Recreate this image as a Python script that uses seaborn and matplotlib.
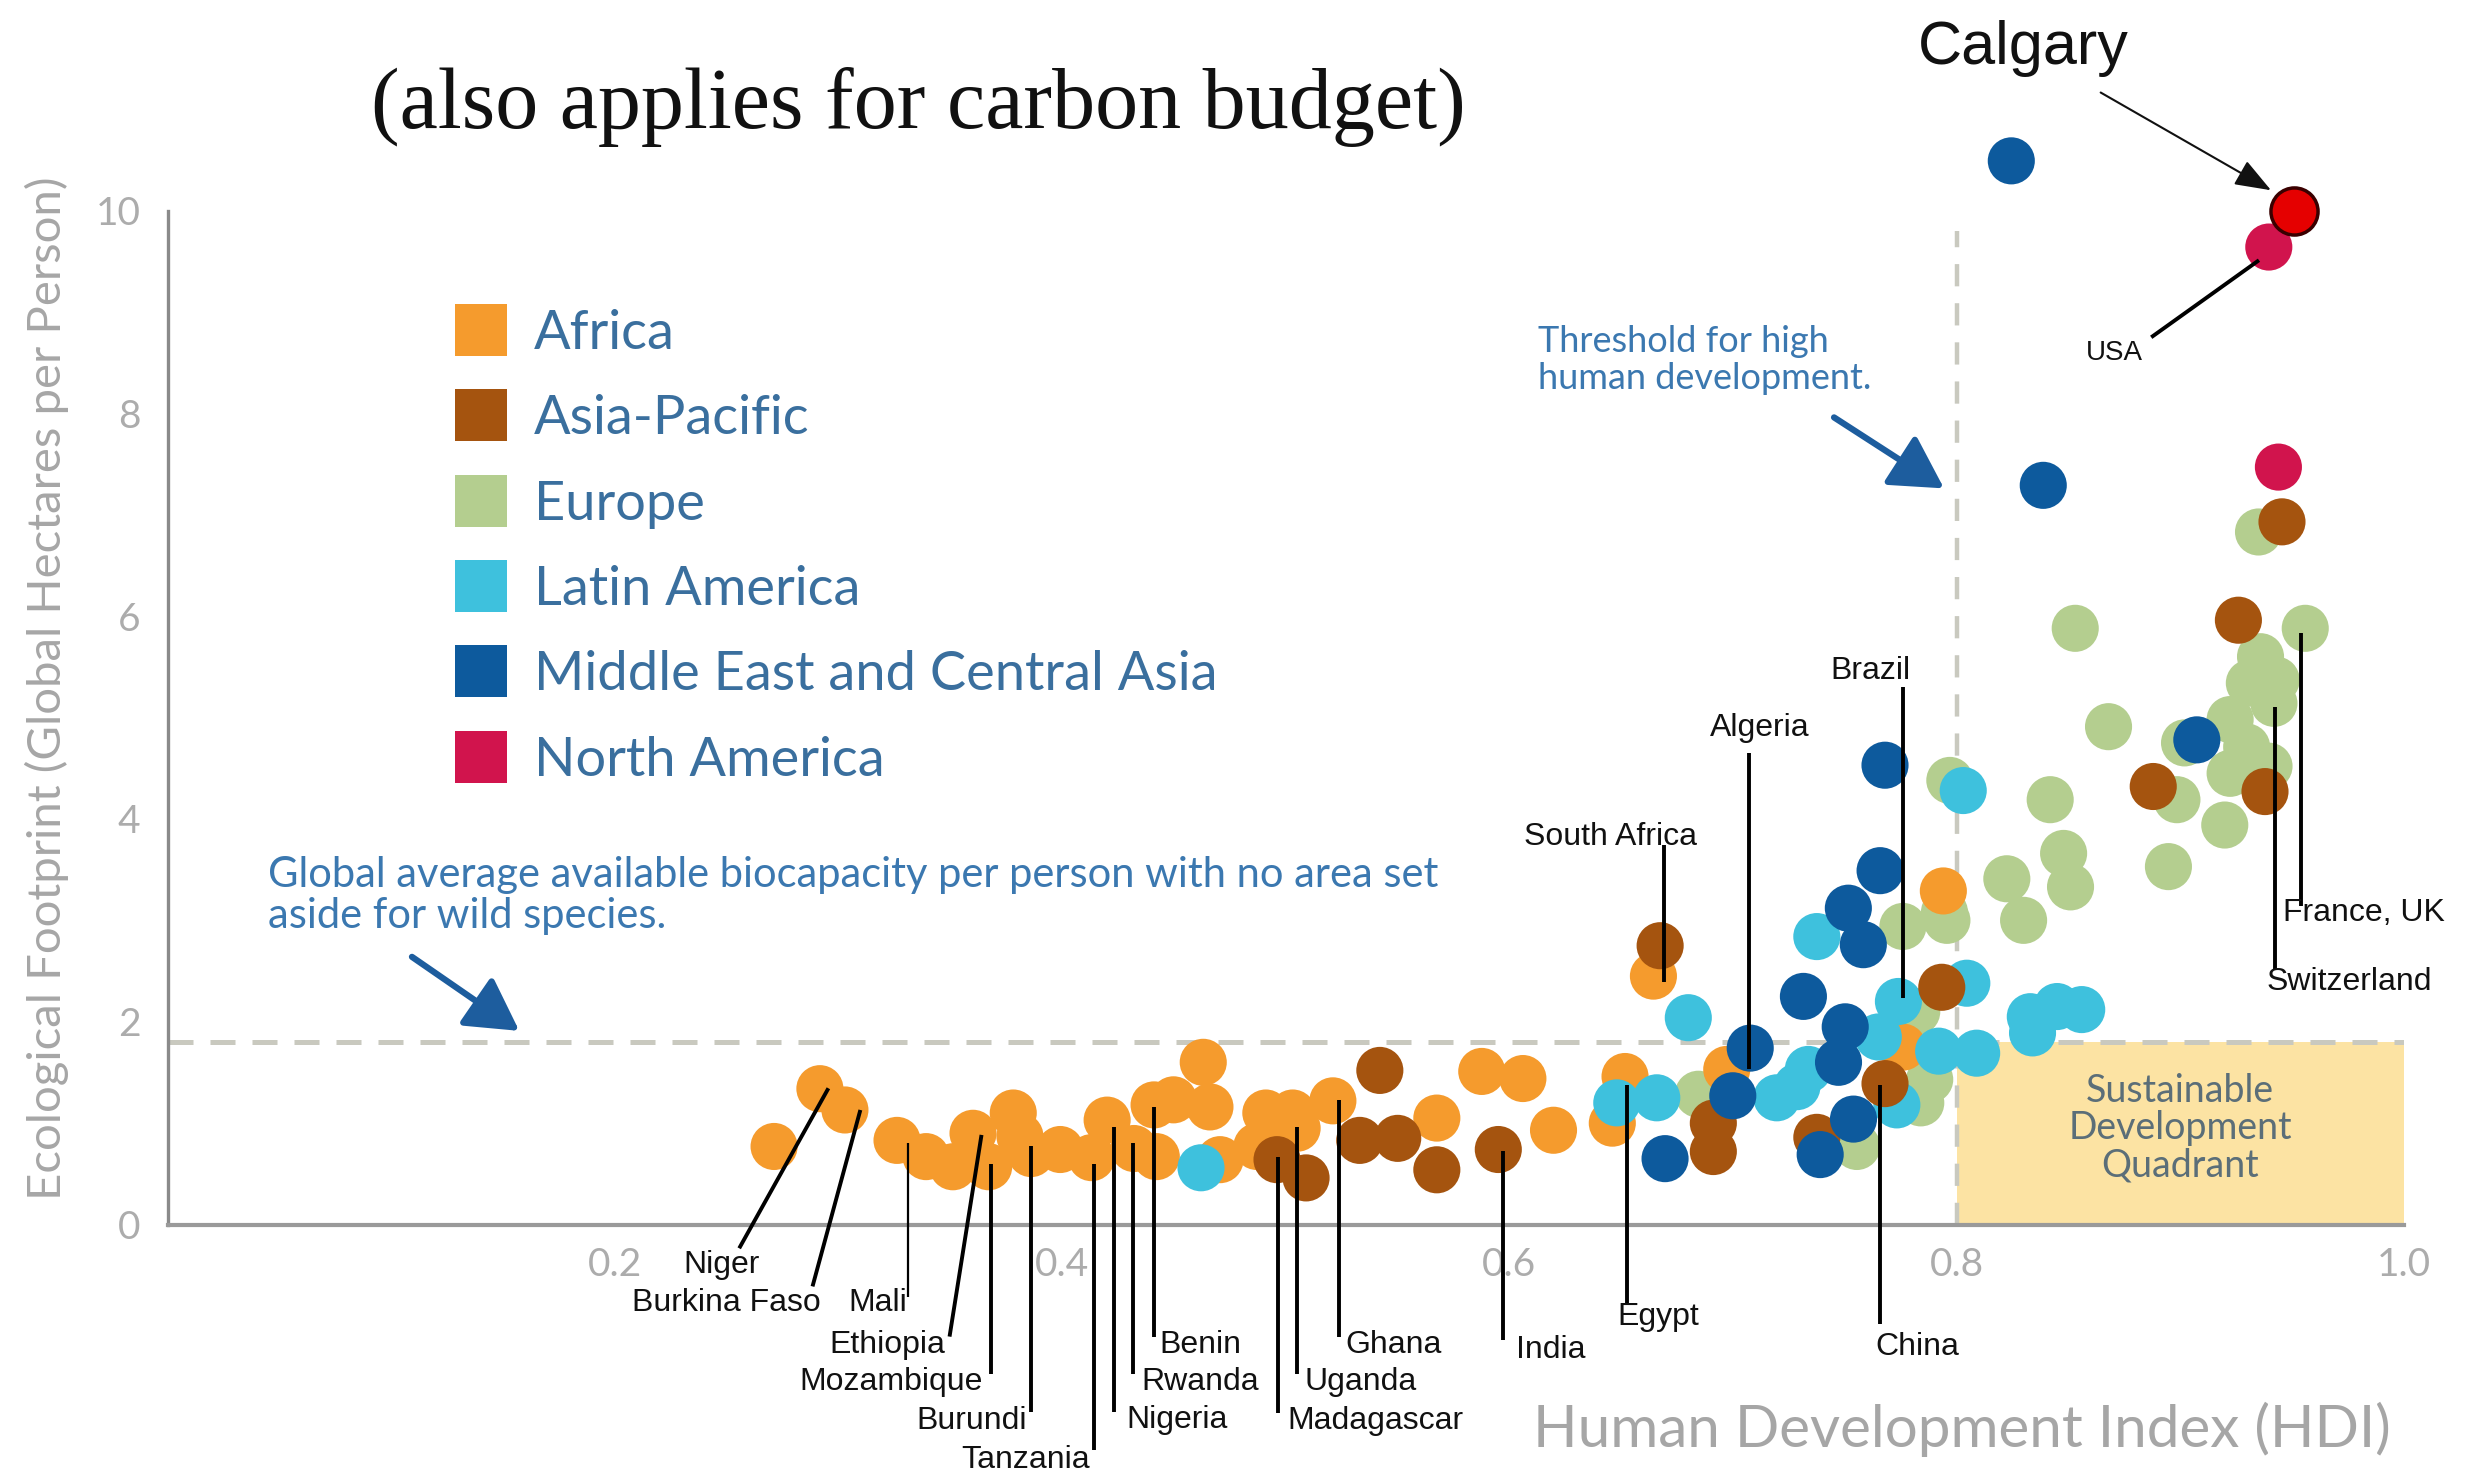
import matplotlib
matplotlib.use('Agg')
import matplotlib.pyplot as plt
from matplotlib.lines import Line2D
import numpy as np
import pandas as pd
import seaborn as sns

sns.set_style('white')
plt.rcParams.update({'font.family': ['Lato', 'DejaVu Sans'],
                     'axes.linewidth': 2.4})

#-- regions and colours --
regions = ['Africa', 'Asia-Pacific', 'Europe', 'Latin America',
           'Middle East and Central Asia', 'North America']
region_colors = ['#f59b2d', '#a5540f', '#b4ce8f', '#3ec1dd', '#0d5a9d', '#d1144d']

#-- points (HDI, ecological footprint) --
africa_hdi = [0.271, 0.2915, 0.3027, 0.326, 0.339, 0.351, 0.360, 0.367, 0.378, 0.381,
              0.386, 0.399, 0.413, 0.420, 0.432, 0.441, 0.442, 0.4497, 0.463, 0.466,
              0.4705, 0.491, 0.503, 0.521, 0.487, 0.505, 0.5675, 0.5876, 0.606, 0.6197,
              0.646, 0.6517, 0.6644, 0.6972, 0.7941, 0.776]
africa_fp = [0.77, 1.34, 1.13, 0.83, 0.67, 0.57, 0.90, 0.57, 1.10, 0.87,
             0.70, 0.74, 0.66, 1.03, 0.75, 1.18, 0.67, 1.23, 1.60, 1.16,
             0.64, 1.10, 1.10, 1.22, 0.77, 0.95, 1.05, 1.51, 1.44, 0.93,
             1.00, 1.46, 2.45, 1.53, 3.29, 1.75]

asia_hdi = [0.496, 0.509, 0.542, 0.533, 0.550, 0.5675, 0.595, 0.6674, 0.6912, 0.6912,
            0.7375, 0.768, 0.7934, 0.9261, 0.9456, 0.888, 0.938]
asia_fp = [0.64, 0.46, 1.52, 0.83, 0.85, 0.54, 0.74, 2.75, 1.00, 0.72,
           0.86, 1.39, 2.34, 5.96, 6.93, 4.32, 4.27]

europe_hdi = [0.6845, 0.7554, 0.7822, 0.7946, 0.776, 0.797, 0.8225, 0.830, 0.784, 0.8531,
              0.9351, 0.956, 0.936, 0.931, 0.943, 0.942, 0.868, 0.902, 0.9224, 0.9298,
              0.9224, 0.9398, 0.8986, 0.8419, 0.920, 0.8479, 0.8948, 0.851, 0.788, 0.7957]
europe_fp = [1.285, 0.77, 2.10, 3.08, 2.94, 4.38, 3.41, 3.00, 1.20, 5.88,
             6.83, 5.88, 5.60, 5.34, 5.37, 5.14, 4.91, 4.75, 4.98, 4.71,
             4.45, 4.52, 4.19, 4.19, 3.94, 3.66, 3.53, 3.33, 1.43, 3.00]

latin_hdi = [0.462, 0.648, 0.680, 0.6659, 0.7196, 0.7337, 0.7375, 0.7286, 0.7733, 0.774,
             0.8046, 0.792, 0.809, 0.803, 0.833, 0.845, 0.856, 0.834, 0.765]
latin_fp = [0.56, 1.20, 2.04, 1.25, 1.25, 1.53, 2.84, 1.36, 1.18, 2.20,
            2.38, 1.71, 1.69, 4.28, 2.05, 2.15, 2.12, 1.89, 1.85]

mideast_hdi = [0.8245, 0.8388, 0.9075, 0.768, 0.7658, 0.7516, 0.7583, 0.7315, 0.7502, 0.7472,
               0.7539, 0.739, 0.7077, 0.6999, 0.6696]
mideast_fp = [10.49, 7.29, 4.78, 4.53, 3.49, 3.12, 2.76, 2.25, 1.95, 1.60,
              1.04, 0.69, 1.74, 1.27, 0.65]

namerica_hdi = [0.9397, 0.944]
namerica_fp = [9.64, 7.47]

calgary_hdi = [0.951]
calgary_fp = [10.0]

#-- labelled countries: text centre, line foot, line head (data units) --
label_names = ['Niger', 'Burkina Faso', 'Mali', 'Ethiopia', 'Mozambique', 'Burundi',
               'Tanzania', 'Nigeria', 'Rwanda', 'Benin', 'Ghana', 'Uganda', 'Madagascar',
               'India', 'Egypt', 'China', 'South Africa', 'Algeria', 'Brazil',
               'France, UK', 'Switzerland', 'USA']
label_tx = [0.2475, 0.2497, 0.3175, 0.3217, 0.3234, 0.3595, 0.3837, 0.4515, 0.4615, 0.4615,
            0.548, 0.5336, 0.540, 0.6184, 0.6664, 0.7826, 0.6453, 0.7119, 0.7616,
            0.9823, 0.9758, 0.8706]
label_ty = [-0.40, -0.776, -0.776, -1.19, -1.55, -1.94, -2.32, -1.93, -1.55, -1.19,
            -1.19, -1.55, -1.94, -1.24, -0.91, -1.21, 3.82, 4.90, 5.46,
            3.07, 2.39, 8.60]
line_x0 = [0.2554, 0.2882, 0.331, 0.3495, 0.368, 0.386, 0.4143, 0.4229, 0.4317, 0.4408,
           0.5236, 0.505, 0.4965, 0.5972, 0.6524, 0.7658, 0.6693, 0.7071, 0.7759,
           0.954, 0.9424, 0.8871]
line_y0 = [-0.234, -0.61, -0.71, -1.105, -1.47, -1.845, -2.22, -1.845, -1.47, -1.105,
           -1.105, -1.47, -1.86, -1.136, -0.78, -0.985, 3.74, 4.65, 5.30,
           3.14, 2.51, 8.75]
line_x1 = [0.2953, 0.3096, 0.331, 0.3638, 0.368, 0.386, 0.4143, 0.4229, 0.4317, 0.4408,
           0.5236, 0.505, 0.4965, 0.5972, 0.6524, 0.7658, 0.6693, 0.7071, 0.7759,
           0.954, 0.9424, 0.9353]
line_y1 = [1.344, 1.13, 0.80, 0.884, 0.60, 0.77, 0.60, 0.965, 0.80, 1.16,
           1.23, 0.965, 0.67, 0.726, 1.38, 1.38, 2.39, 1.53, 2.23,
           5.83, 5.10, 9.51]

biocap_level = 1.8
hdi_threshold = 0.8

# draw order: Europe at the back, North America on top
order = ['Europe', 'Africa', 'Latin America', 'Asia-Pacific',
         'Middle East and Central Asia', 'North America']
series = {'Africa': (africa_hdi, africa_fp),
          'Asia-Pacific': (asia_hdi, asia_fp),
          'Europe': (europe_hdi, europe_fp),
          'Latin America': (latin_hdi, latin_fp),
          'Middle East and Central Asia': (mideast_hdi, mideast_fp),
          'North America': (namerica_hdi, namerica_fp)}
dfs = []
for reg in order:
    hx, fy = series[reg]
    dfs.append(pd.DataFrame({'hdi': hx, 'footprint': fy, 'region': reg}))
df = pd.concat(dfs, ignore_index=True)
palette = dict(zip(regions, region_colors))

fig = plt.figure(figsize=(24.68, 14.72), dpi=100)
ax = fig.add_axes([0.0682, 0.1681, 0.9057, 0.7922])

# sustainable development quadrant
ax.fill_between([hdi_threshold, 1.0], 0, biocap_level, color='#fce3a3', zorder=0, lw=0)
ax.text(0.9, 0.95, 'Sustainable\nDevelopment\nQuadrant', ha='center', va='center',
        fontsize=27, color='#5b6e78', linespacing=1.05, zorder=1)

ax.plot([0, 1.0], [biocap_level, biocap_level], color='#c9c9bf', lw=3.6,
        dashes=(5, 3.4), zorder=1)
ax.plot([hdi_threshold, hdi_threshold], [0, 9.8], color='#c9c9bf', lw=3.2,
        dashes=(5, 3.8), zorder=1)

sns.scatterplot(data=df, x='hdi', y='footprint', hue='region', palette=palette,
                s=1150, linewidth=0, legend=False, ax=ax, zorder=3)
ax.scatter(calgary_hdi, calgary_fp, s=1150, color='#e50000', edgecolor='#3a0000',
           linewidth=2.5, zorder=4)

# country labels
for name, tx, ty, x0, y0, x1, y1 in zip(label_names, label_tx, label_ty,
                                        line_x0, line_y0, line_x1, line_y1):
    lw = 1.6 if name == 'Mali' else 2.8
    ax.plot([x0, x1], [y0, y1], color='#000000', lw=lw, clip_on=False, zorder=5,
            solid_capstyle='butt')
    ax.text(tx, ty, name, ha='center', va='center', fontsize=23 if name != 'USA' else 20,
            family='Liberation Sans', color='#111111', clip_on=False, zorder=6)

# notes with blue arrows
note_blue = '#3b78b0'
ax.text(0.6128, 8.53, 'Threshold for high\nhuman development.', ha='left', va='center',
        fontsize=26, color=note_blue, linespacing=1.15)
ax.annotate('', xy=(0.7944, 7.26), xytext=(0.7452, 7.96),
            arrowprops=dict(arrowstyle='-|>,head_length=0.8,head_width=0.45',
                            lw=4.5, color='#1d5d9e', mutation_scale=40,
                            shrinkA=0, shrinkB=0))
ax.text(0.0444, 3.245, 'Global average available biocapacity per person with no area set\n'
        'aside for wild species.', ha='left', va='center', fontsize=30,
        color=note_blue, linespacing=1.1)
ax.annotate('', xy=(0.157, 1.91), xytext=(0.109, 2.64),
            arrowprops=dict(arrowstyle='-|>,head_length=0.8,head_width=0.45',
                            lw=4.5, color='#1d5d9e', mutation_scale=40,
                            shrinkA=0, shrinkB=0))

# Calgary call-out
ax.annotate('Calgary', xy=(0.9407, 10.2), xytext=(0.830, 11.6),
            ha='center', va='center', fontsize=44, family='Liberation Sans',
            color='#111111', annotation_clip=False,
            arrowprops=dict(arrowstyle='-|>,head_length=0.8,head_width=0.3',
                            lw=1.5, color='#111111', mutation_scale=28,
                            shrinkA=18, shrinkB=0))

fig.text(0.372, 0.927, '(also applies for carbon budget)', ha='center', va='center',
         fontsize=62, family='Liberation Serif', color='#111111')

# legend
handles = [Line2D([0], [0], marker='s', linestyle='', markersize=37,
                  markerfacecolor=c, markeredgewidth=0) for c in region_colors]
leg = ax.legend(handles, regions, loc='upper left', bbox_to_anchor=(0.1845, 0.79),
                bbox_transform=fig.transFigure, frameon=False, fontsize=39,
                handlelength=0.95, handletextpad=0.5, labelspacing=0.67,
                borderpad=0, borderaxespad=0)
for t in leg.get_texts():
    t.set_color('#3a6f9e')

# axes styling
ax.set_xlim(0, 1.0)
ax.set_ylim(0, 11.5)
ax.set_xticks([0.2, 0.4, 0.6, 0.8, 1.0])
ax.set_xticklabels(['0.2', '0.4', '0.6', '0.8', '1.0'])
ax.set_yticks([0, 2, 4, 6, 8, 10])
sns.despine(ax=ax)
ax.spines['left'].set_bounds(0, 10)
ax.spines['left'].set_color('#8a8a8a')
ax.spines['bottom'].set_color('#9a9a9a')
ax.spines['bottom'].set_linewidth(3.0)
ax.tick_params(axis='y', direction='in', length=19, width=2.4, color='#8a8a8a',
               labelsize=28, labelcolor='#acacac', pad=20)
ax.tick_params(axis='x', direction='in', length=12, width=2.0, color='#9a9a9a',
               labelsize=28, labelcolor='#acacac', pad=16)

ax.set_xlabel('Human Development Index (HDI)', fontsize=42, color='#a6a6a6')
ax.xaxis.set_label_coords(0.8025, -0.1756)
ax.xaxis.label.set_va('center')
ax.set_ylabel('Ecological Footprint (Global Hectares per Person)', fontsize=34,
              color='#a6a6a6')
ax.yaxis.set_label_coords(-0.0543, 0.46)
ax.yaxis.label.set_va('center')

fig.savefig('out.png', dpi=100)
